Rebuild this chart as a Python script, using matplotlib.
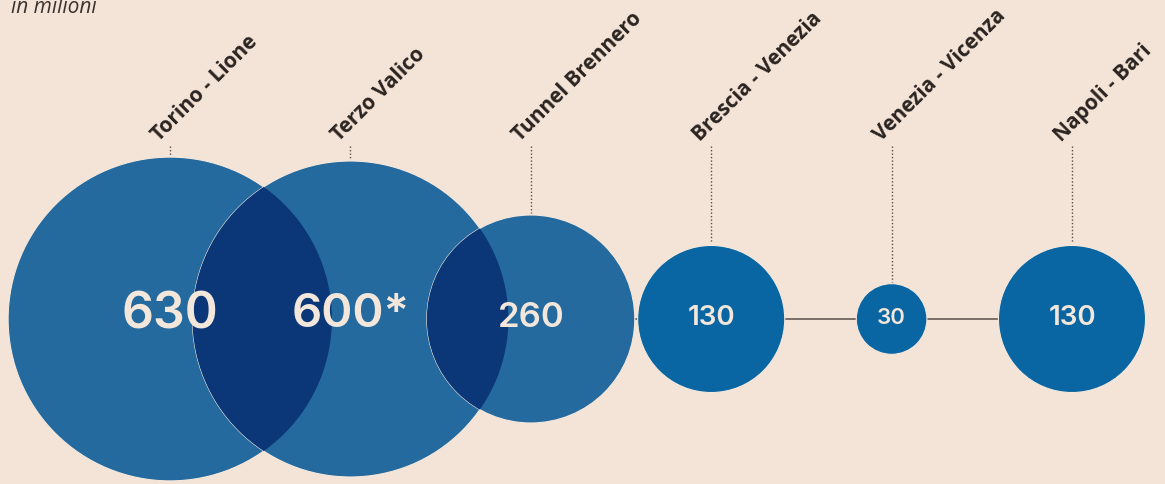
import numpy as np
import matplotlib.pyplot as plt
from matplotlib.patches import Circle

# costi in milioni
tratte = ["Torino - Lione", "Terzo Valico", "Tunnel Brennero",
          "Brescia - Venezia", "Venezia - Vicenza", "Napoli - Bari"]
valori = [630, 600, 260, 130, 30, 130]
etichette = ["630", "600*", "260", "130", "30", "130"]

bg = "#F3E4D7"
blu_chiaro = "#246A9E"
blu = "#0A66A2"
blu_scuro = "#0B3678"
testo = "#2A2320"

fig = plt.figure(figsize=(11.65, 4.85), dpi=100)
fig.patch.set_facecolor(bg)
ax = fig.add_axes([0, 0, 1, 1])
ax.set_facecolor(bg)
ax.set_xlim(0, 1165)
ax.set_ylim(485, 0)
ax.set_aspect("equal")
ax.axis("off")

k = 6.45        # radius per sqrt(milioni)
x0, dx = 170, 180.4
cy = 320
xs = [x0 + i * dx for i in range(len(valori))]
rs = [k * np.sqrt(v) for v in valori]

# horizontal connecting line
ax.plot([xs[2], xs[-1]], [cy, cy], color="#5a4e48", lw=1.1, zorder=0)

for i, (x, r) in enumerate(zip(xs, rs)):
    col = blu_chiaro if i < 3 else blu
    c = Circle((x, cy), r, facecolor=col, edgecolor="#f5e9dd", lw=0.8, zorder=1)
    ax.add_patch(c)

# darker overlap between neighbouring circles
for i in range(len(xs) - 1):
    if xs[i + 1] - xs[i] < rs[i] + rs[i + 1]:
        clip = Circle((xs[i], cy), rs[i], transform=ax.transData)
        ov = Circle((xs[i + 1], cy), rs[i + 1], facecolor=blu_scuro,
                    edgecolor="none", zorder=2)
        ax.add_patch(ov)
        ov.set_clip_path(clip)

# values inside circles
sizes = [36, 34, 25, 20, 16, 20]
for x, lab, fs in zip(xs, etichette, sizes):
    dy = 5 if fs > 30 else 2
    ax.text(x, cy - dy, lab, ha="center", va="center", fontsize=fs,
            color="#F3E7DC", family="Inter", fontweight="semibold", zorder=4)

# dotted leaders and rotated labels
top = 147
for x, r, name in zip(xs, rs, tratte):
    ax.plot([x, x], [top, cy - r - 2], color="#5a4e48", lw=1,
            ls=(0, (1, 1.5)), zorder=3)
    ax.text(x - 11, top - 5, name, rotation=45, rotation_mode="anchor",
            ha="left", va="baseline", fontsize=15, fontweight="bold",
            family="Open Sans", color=testo)

ax.text(11, 13, "in milioni", ha="left", va="baseline", fontsize=15,
        style="italic", family="Open Sans", color="#3a3330")

fig.savefig("out.png", dpi=100, facecolor=bg)
